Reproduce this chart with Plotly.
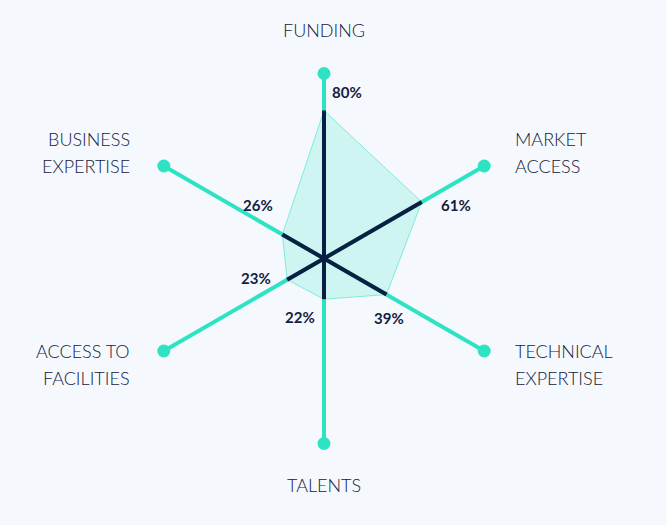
import math
import plotly.graph_objects as go

# ---- data ----
categories = ["FUNDING", "MARKET ACCESS", "TECHNICAL EXPERTISE", "TALENTS",
              "ACCESS TO FACILITIES", "BUSINESS EXPERTISE"]
label_lines = [["FUNDING"], ["MARKET", "ACCESS"], ["TECHNICAL", "EXPERTISE"], ["TALENTS"],
               ["ACCESS TO", "FACILITIES"], ["BUSINESS", "EXPERTISE"]]
values = [80, 61, 39, 22, 23, 26]
value_labels = ["80%", "61%", "39%", "22%", "23%", "26%"]
axis_max = 100

# ---- styling ----
BG = "#f5f9fd"
TEAL = "#2de3c3"
NAVY = "#0c1f42"
TEXT = "#142040"
FONT = "Lato Light, Lato"
FONT_B = "Lato"

n = len(categories)
angles = [math.radians(90 - 60 * i) for i in range(n)]

def xy(r, a):
    return r * math.cos(a), r * math.sin(a)

fig = go.Figure()

# filled value polygon
px = [xy(v, a)[0] for v, a in zip(values, angles)]
py = [xy(v, a)[1] for v, a in zip(values, angles)]
fig.add_trace(go.Scatter(x=px + [px[0]], y=py + [py[0]], mode="lines", fill="toself",
                         fillcolor="rgba(45,227,195,0.19)",
                         line=dict(color="rgba(45,227,195,0.55)", width=1),
                         hoverinfo="skip", showlegend=False))

# full teal spokes
for a in angles:
    ex, ey = xy(axis_max, a)
    fig.add_trace(go.Scatter(x=[0, ex], y=[0, ey], mode="lines",
                             line=dict(color=TEAL, width=4), hoverinfo="skip", showlegend=False))

# navy value bars
for v, a in zip(values, angles):
    ex, ey = xy(v, a)
    fig.add_trace(go.Scatter(x=[0, ex], y=[0, ey], mode="lines",
                             line=dict(color=NAVY, width=4), hoverinfo="skip", showlegend=False))

# endpoint dots
fig.add_trace(go.Scatter(x=[xy(axis_max, a)[0] for a in angles],
                         y=[xy(axis_max, a)[1] for a in angles],
                         mode="markers", marker=dict(color=TEAL, size=13),
                         hoverinfo="skip", showlegend=False))

# category labels: (xanchor, xshift, yshift of first line, line step)
cat_pos = [("center", 0, 44, 0), ("left", 29, 27, -27), ("left", 29, 0, -27),
           ("center", 0, -41, 0), ("right", -32, 0, -27), ("right", -32, 27, -27)]
for lines, a, (xa, xs, ys, step) in zip(label_lines, angles, cat_pos):
    ex, ey = xy(axis_max, a)
    for k, line in enumerate(lines):
        fig.add_annotation(x=ex, y=ey, text=line, showarrow=False,
                           xanchor=xa, yanchor="middle", xshift=xs, yshift=ys + k * step,
                           font=dict(family=FONT, size=18, color=TEXT))

# value labels
val_pos = [("left", 6, 19), ("left", 17, -3), ("center", 3, -23),
           ("right", -7, -18), ("right", -14, 2), ("right", -7, 29)]
for v, a, lab, (xa, xs, ys) in zip(values, angles, value_labels, val_pos):
    ex, ey = xy(v, a)
    fig.add_annotation(x=ex, y=ey, text="<b>%s</b>" % lab, showarrow=False,
                       xanchor=xa, yanchor="middle", xshift=xs, yshift=ys,
                       font=dict(family=FONT_B, size=15, color=TEXT))

scale = 1.85  # px per unit
cx, cy = 324, 258.5
W, H = 667, 525
fig.update_layout(
    width=W, height=H, margin=dict(l=0, r=0, t=0, b=0),
    paper_bgcolor=BG, plot_bgcolor=BG,
    xaxis=dict(range=[-cx / scale, (W - cx) / scale], visible=False, fixedrange=True),
    yaxis=dict(range=[-(H - cy) / scale, cy / scale], visible=False, fixedrange=True),
    showlegend=False,
)

fig.write_html("out.html", config={"displayModeBar": False},
               post_script="document.body.style.margin='0';document.body.style.background='%s';"
                           "document.body.style.overflow='hidden';" % BG)
